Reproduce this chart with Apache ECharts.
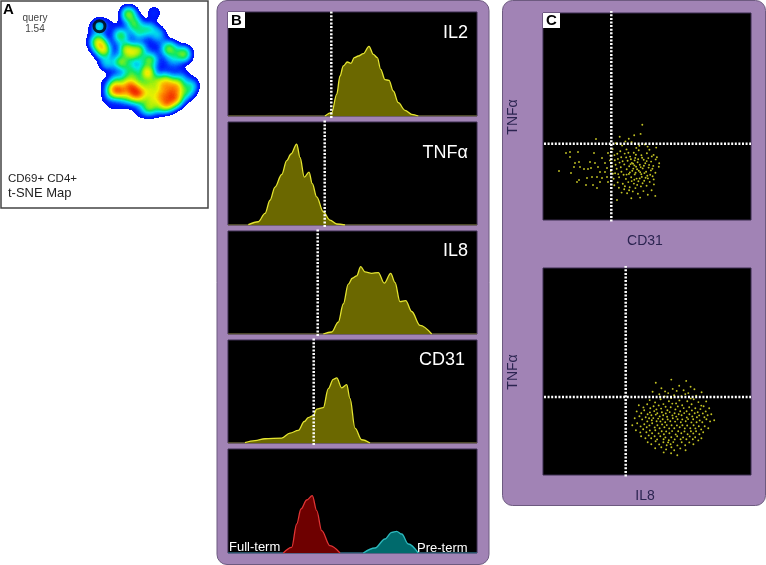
<!DOCTYPE html>
<html>
<head>
<meta charset="utf-8">
<title>CD69+ CD4+ t-SNE Map</title>
<script src="https://cdn.jsdelivr.net/npm/echarts@6/dist/echarts.min.js"></script>
<style>
html, body { margin: 0; padding: 0; background: #fff; }
#chart { width: 766px; height: 565px; }
</style>
</head>
<body>
<div id="chart"></div>
<script>
// ========== Data ==========

// Panel A: density map, [x, y, weight] with y measured downwards
const tsneBase = [
  [127,13,.16],[136,16,.14],[153,12,.24],[99,80,.1],
  [92,30,.14],[105,24,.14],[115,25,.12],[125,22,.14],[135,25,.14],[143,26,.14],
  [91,41,.14],[100,34,.12],[112,33,.12],[122,33,.12],[132,33,.14],[142,33,.14],[152,33,.14],[160,36,.14],
  [93,46,.14],[102,42,.12],[112,42,.12],[122,42,.12],[132,42,.12],[142,42,.12],[152,42,.12],[162,42,.14],[172,45,.14],
  [98,52,.14],[108,50,.12],[118,50,.12],[128,50,.12],[138,50,.12],[148,50,.12],[158,50,.12],[168,50,.12],[181,50,.14],
  [104,60,.14],[112,58,.12],[122,58,.12],[132,58,.12],[142,58,.12],[152,58,.12],[162,58,.12],[172,58,.12],[183,58,.14],
  [110,66,.12],[120,66,.12],[130,66,.12],[140,66,.12],[150,66,.12],[160,66,.12],[170,66,.12],[178,66,.14],
  [115,74,.12],[125,74,.12],[135,74,.12],[145,74,.12],[155,74,.12],[165,74,.12],[178,74,.12],[186,76,.14],
  [110,82,.14],[120,82,.12],[130,82,.12],[140,82,.12],[150,82,.12],[160,82,.12],[170,82,.12],[180,82,.12],[190,85,.14],
  [106,90,.14],[116,90,.12],[126,90,.12],[136,90,.12],[146,90,.12],[156,90,.12],[166,90,.12],[176,90,.12],[188,90,.14],
  [106,98,.14],[116,98,.12],[126,98,.12],[136,98,.12],[146,98,.12],[156,98,.12],[166,98,.12],[176,98,.12],[184,96,.14],
  [112,104,.14],[122,104,.14],[134,106,.12],[146,106,.12],[156,106,.12],[166,105,.14],[176,102,.14],
  [140,112,.14],[150,113,.14],[160,110,.14]
];
const tsneMid = [
  [127,13,.45],[133,23,.45],[98,25,.6],[106,62,.45],[120,35,.45],[137,33,.4],[144,29,.4],[150,27,.4],[157,33,.4],
  [168,48,.5],[183,53,.5],[172,58,.35],[176,52,.3],[120,61,.55],[128,67,.5],[133,73,.55],[130,56,.35],[140,60,.35],
  [115,80,.55],[125,78,.5],[132,80,.5],[140,82,.55],[148,84,.5],[155,80,.55],[165,78,.55],[178,80,.55],[190,85,.5],
  [112,92,.55],[125,95,.55],[132,97,.5],[140,100,.55],[150,105,.55],[160,105,.55],[175,100,.55],[147,107,.55],[185,92,.5],[128,50,.4],
  [150,88,.5],[158,92,.55],[145,92,.45],[160,97,.55],[153,100,.45]
];
const tsneHot = [
  [128,13,.65],[133,23,.45],[97,40,.9],[100,45,.95],[103,50,.9],[125,48,.85],[132,52,.6],[138,49,.85],
  [149,59,.85],[147,73,.9],[146,70,.8],[120,35,.45],[168,48,.5],[183,53,.5],[120,61,.5],
  [113,88,.95],[117,89,.95],[121,90,.95],[127,85,.9],[131,87,.95],[135,92,.95],[139,92,.95],[133,90,.8],[150,95,.65],
  [160,83,.7],[167,83,.75],[164,88,.7],[170,92,.9],[177,88,.9],[173,85,.8],[170,97,.9],[165,102,.9],[175,96,.9],[162,95,.75],[168,104,.7]
];
const queryCircle = [[98.5, 25.3]];

// Panel B: histograms, [x, height] on a 0-249 by 0-104 scale
const il2Hist = [[97,0],[103.7,3.3],[108.7,21.7],[112,40],[115.3,50],[119.3,54],[123,52.7],[126.3,58.3],[130.3,60],[135.3,62.3],[141,69.7],[145.3,61.7],[149.3,58.3],[152.7,46.7],[157,36.3],[161,35.7],[165.3,25],[170.3,13.3],[177,5.7],[183.7,1.7],[190.3,0]];
const tnfHist = [[20.3,.3],[30.3,3.3],[37,11.7],[42,25],[47,38.3],[53.7,51],[58.7,65],[63,71.7],[68.7,81.7],[72,68.3],[76.3,48.3],[81,53.3],[84.3,41.7],[88.7,28.3],[95.3,13.3],[102,5],[108.7,1],[117,0]];
const il8Hist = [[95.3,0],[103.7,2],[110.3,12],[115.3,30.3],[120.3,50.3],[124.3,56.3],[128.7,58.7],[132.7,68],[137,62.7],[143.7,61.3],[150.3,62],[156.3,51.3],[162.7,61.3],[167,52],[172,32.7],[177.7,33.7],[183.7,22.7],[192,8.7],[203.7,0]];
const cd31Hist = [[17,.3],[27,2.3],[37,4.3],[53.7,5],[62,10],[70.3,12.7],[76.3,21.7],[80.3,25.7],[85.3,27.7],[88.7,34.3],[95.3,35.7],[100.3,55],[105.3,64.3],[108.7,65.7],[113.7,55.7],[118.7,59],[122,45],[127,15],[133.7,3.3],[142,0]];
const fullTermHist = [[55.3,0],[63.7,5.7],[68.7,29],[73,44],[78.7,53],[84.3,57.3],[88.7,42.3],[93.7,22.3],[102,7.3],[112,0]];
const preTermHist = [[135.3,0],[147,5],[157,14],[163.7,20.7],[168.7,21.7],[173.7,19],[180.3,9],[190.3,0]];
const baseline = [[0,0],[249,0]];
const histThresholds = [103.3, 96.7, 89.7, 85.7];
const histNames = ['IL2', 'TNFα', 'IL8', 'CD31'];

// Panel C: events, [x, y] on a 0-208 by 0-207 scale
const cd31Tnf = [
  [16,49],[27,68],[23,67],[35,68],[27,63],[32,57],[36,58],[47,58],[51,67],[59,62],[28,47],[31,53],[37,53],[41,51],[45,51],[48,52],[52,57],[55,53],[57,48],[62,48],[64,43],[59,42],[54,43],[49,43],[44,42],[36,40],[34,38],[43,35],[50,35],[54,32],[57,38],[62,57],[65,67],[64,52],[65,38],[53,81],[74,20],
  [99.3,95.2],[97.6,86.1],[91.2,84.7],[85.8,81.3],[82.4,78.6],[76.7,83.2],[72.9,76.8],[79.1,74.4],[88.6,77.9],[93.3,72.1],[101.8,75.6],[106.4,70.3],[113.2,72.4],[69.7,70.9],[74.3,66.2],[83.5,70.6],[90.8,67.3],[95.7,69.8],[87.1,63.4],[103.9,66.7],
  [110.6,65.1],[78.2,62.8],[67.4,64.3],[71.8,59.7],[84.6,59.2],[92.2,62.1],[98.4,64.8],[100.7,60.3],[105.3,61.9],[94.6,57.8],[88.9,57.1],[81.3,55.6],[76.6,57.4],[69.2,53.8],[73.7,51.2],[86.2,53.7],[91.4,54.6],[96.8,55.3],[102.3,56.7],[108.1,58.4],
  [112.7,60.6],[115.8,53.2],[110.3,54.1],[105.6,52.4],[99.7,51.6],[94.1,50.7],[89.3,49.2],[83.7,50.8],[78.4,48.3],[72.1,46.7],[67.8,48.9],[80.6,45.2],[85.9,46.1],[91.7,45.6],[97.2,47.8],[103.1,48.2],[107.9,49.6],[112.4,47.3],[109.6,43.7],[104.3,44.2],
  [98.8,43.1],[93.6,41.4],[88.2,42.8],[82.9,41.1],[76.1,42.7],[70.6,41.3],[74.7,37.6],[79.8,36.2],[85.3,37.9],[90.9,36.4],[95.4,38.7],[101.2,39.3],[106.7,38.1],[110.9,35.6],[103.6,34.2],[97.9,33.6],[92.4,31.9],[86.7,32.8],[81.2,30.7],[75.9,32.2],
  [71.3,34.8],[78.6,27.4],[84.1,26.8],[89.8,28.6],[94.9,26.3],[100.4,28.9],[104.8,25.2],[108.6,29.7],[112.3,24.1],[97.1,22.4],[88.3,21.8],[91.6,59.6],[95.2,60.7],[97.7,52.9],[100.9,54.2],[93.1,53.3],[87.6,55.9],[90.3,51.4],[95.8,49.3],[101.4,46.9],
  [106.1,55.1],[103.7,58.9],[99.1,62.3],[92.9,65.2],[87.9,60.7],[83.2,62.6],[79.6,58.7],[74.9,61.1],[68.3,57.2],[71.4,64.9],[77.3,68.7],[81.7,66.4],[85.4,67.2],[96.3,74.3],[104.6,73.4],[108.8,63.6],[113.9,62.7],[116.2,56.8],[109.4,51.2],[104.9,41.6],
  [99.6,36.7],[94.2,35.1],[88.7,38.9],[83.6,45.4],[77.8,52.7],[72.6,55.3],[66.9,59.6],[69.8,46.3],[75.2,45.9],[81.9,33.8],[86.1,29.7],[91.3,40.2],[96.7,41.6],[102.6,42.3],[107.2,45.3],[110.7,40.6],[86.9,47.6],[92.6,47.2],[98.3,45.7],[90.1,56.3]
];
const il8Tnf = [
  [128.3,95.4],[143.2,94.1],[147.6,88.3],[112.8,92.2],[118.4,86.7],[122.1,83.6],[129.7,86.1],[136.2,89.3],[140.6,84.7],[145.3,81.9],[151.4,85.8],[109.6,83.2],[116.3,80.7],[121.8,78.6],[125.2,81.9],[131.1,79.8],[133.7,84.1],[138.4,78.7],[142.3,80.9],[147.7,76.6],
  [153.2,79.4],[158.6,82.7],[106.7,74.9],[112.1,72.6],[117.6,75.8],[120.4,70.9],[125.9,73.7],[128.2,76.9],[133.1,71.6],[136.4,74.6],[139.2,69.7],[144.3,73.8],[148.6,70.8],[150.7,75.8],[155.4,72.9],[158.3,69.4],[163.2,73.6],[95.8,69.7],[100.4,67.6],[104.2,70.7],
  [107.3,66.8],[110.6,68.7],[113.4,65.6],[115.7,69.6],[118.1,66.4],[122.6,68.3],[124.4,64.7],[127.7,67.8],[129.3,71.4],[132.4,65.6],[134.8,68.6],[137.2,63.8],[140.7,66.9],[143.6,63.7],[146.2,67.7],[148.9,64.6],[152.3,66.8],[154.7,62.7],[157.4,65.9],[160.6,68.8],
  [162.7,63.6],[166.2,66.7],[93.7,63.6],[98.3,61.7],[101.2,64.8],[104.6,60.7],[106.9,62.6],[108.4,59.7],[111.2,63.9],[112.8,60.4],[114.3,61.8],[116.7,58.6],[118.9,62.7],[120.2,59.8],[122.8,61.6],[124.1,58.3],[126.7,62.9],[129.4,59.6],[131.6,61.7],[133.3,58.4],
  [135.7,60.8],[138.6,59.7],[141.2,61.9],[143.8,57.6],[146.4,60.7],[149.3,58.6],[151.7,61.8],[153.9,57.7],[156.2,59.6],[159.8,61.6],[161.4,57.8],[164.6,59.7],[168.3,60.8],[91.7,56.8],[96.4,58.7],[99.2,55.6],[102.7,57.8],[104.3,53.6],[106.1,56.7],[108.8,54.7],
  [110.3,56.9],[113.6,53.8],[115.2,56.4],[117.4,53.6],[119.7,55.8],[122.2,52.7],[124.7,55.6],[127.3,53.8],[129.8,56.7],[132.1,53.4],[134.6,55.7],[137.8,52.8],[139.3,55.6],[142.7,53.7],[145.1,55.9],[148.4,52.6],[150.2,55.7],[153.6,52.8],[156.7,54.6],[159.3,52.7],
  [163.4,55.8],[167.1,53.6],[171.2,54.7],[89.3,49.8],[94.2,51.7],[97.6,48.6],[101.3,50.7],[103.7,47.8],[106.4,49.6],[109.2,51.8],[111.7,47.6],[114.4,49.7],[116.6,46.8],[119.1,50.6],[121.4,47.7],[123.8,49.9],[126.2,46.6],[128.6,49.7],[131.3,46.8],[133.9,49.6],[136.7,47.7],
  [139.4,49.8],[141.8,46.6],[144.2,49.5],[147.3,46.7],[150.6,49.8],[152.4,46.6],[155.8,48.7],[158.2,45.6],[161.7,48.8],[165.3,46.7],[92.9,44.7],[97.3,42.6],[100.2,45.8],[103.4,42.7],[106.8,44.6],[109.1,41.8],[112.3,44.7],[115.6,41.6],[118.7,43.8],[120.9,40.7],
  [123.2,43.6],[126.4,41.7],[129.1,43.9],[132.7,40.6],[135.2,43.7],[138.3,41.8],[141.4,43.6],[144.6,40.7],[147.9,43.8],[150.3,41.6],[153.1,43.7],[156.4,40.8],[160.2,42.7],[98.1,38.8],[102.4,36.7],[105.7,39.6],[108.2,36.8],[111.6,38.7],[114.1,35.6],[117.3,38.8],
  [120.6,35.7],[122.4,37.6],[125.8,34.8],[128.3,37.7],[131.7,35.6],[134.2,38.8],[137.6,35.7],[140.1,37.6],[143.4,35.8],[146.7,38.6],[149.8,35.7],[152.2,37.8],[155.3,34.6],[158.4,36.7],[104.7,32.8],[108.3,30.7],[112.6,33.8],[116.2,30.6],[120.4,32.7],[123.7,29.8],
  [125.1,32.6],[127.6,30.7],[130.3,32.9],[134.4,29.6],[138.7,32.8],[142.2,29.7],[146.3,32.6],[150.4,30.8],[112.2,26.8],[118.3,27.7],[123.1,25.6],[128.4,27.8],[131.2,24.7],[137.3,26.6],[142.6,24.8],[120.7,22.6],[128.1,21.8],[134.3,19.7]
];
const scatterThresholds = [[68.3, 76.3], [82.7, 78]];

const LEVEL_COLOURS = ['#0000f0', '#0020ff', '#0090ff', '#00e8e8', '#10e860', '#90f010', '#f0f000', '#ff9000', '#f02000', '#e00000'];

// ========== Layout of the panels ==========
const histGrids = [
  { left: 228, top: 12, width: 249, height: 104 },
  { left: 228, top: 122, width: 249, height: 103 },
  { left: 228, top: 231, width: 249, height: 103 },
  { left: 228, top: 340, width: 249, height: 103 },
  { left: 228, top: 449, width: 249, height: 104 }
];
const scatterGrids = [
  { left: 543, top: 13, width: 208, height: 207 },
  { left: 543, top: 268, width: 208, height: 207 }
];

const grids = [], xAxes = [], yAxes = [], series = [];

function addGrid(box, xMax, yMax) {
  grids.push(Object.assign({ show: true, backgroundColor: '#000', borderColor: '#3b2c4e', borderWidth: 1 }, box));
  xAxes.push({ type: 'value', gridIndex: grids.length - 1, min: 0, max: xMax, show: false });
  yAxes.push({ type: 'value', gridIndex: grids.length - 1, min: 0, max: yMax, show: false });
  return grids.length - 1;
}

function histSeries(i, data, line, fill) {
  return {
    type: 'line', xAxisIndex: i, yAxisIndex: i, data: data, showSymbol: false, silent: true,
    smooth: 0.35, smoothMonotone: 'x',
    lineStyle: { color: line, width: 1.3 },
    areaStyle: { color: fill, opacity: 1 }
  };
}

function baselineSeries(i, colour) {
  return {
    type: 'line', xAxisIndex: i, yAxisIndex: i, data: baseline, showSymbol: false, silent: true, z: 1,
    lineStyle: { color: colour, width: 1 }
  };
}

// Dotted gates run a little past the plot edge, so no clipping
function gateSeries(i, data) {
  return {
    type: 'line', xAxisIndex: i, yAxisIndex: i, data: data, showSymbol: false, silent: true, clip: false, z: 5,
    lineStyle: { color: '#fff', width: 2.5, type: [2, 1.6] }
  };
}

[il2Hist, tnfHist, il8Hist, cd31Hist].forEach((hist, k) => {
  const i = addGrid(histGrids[k], 249, 104);
  series.push(baselineSeries(i, '#7d7a30'));
  series.push(histSeries(i, hist, '#e4e430', '#6b6800'));
  series.push(gateSeries(i, [[histThresholds[k], -2], [histThresholds[k], 106]]));
});

const termGrid = addGrid(histGrids[4], 249, 104);
series.push(baselineSeries(termGrid, '#2a88a0'));
series.push(histSeries(termGrid, preTermHist, '#2cb8bc', '#006a6c'));
series.push(histSeries(termGrid, fullTermHist, '#e03434', '#6e0000'));

[cd31Tnf, il8Tnf].forEach((points, k) => {
  const i = addGrid(scatterGrids[k], 208, 207);
  series.push({
    type: 'scatter', xAxisIndex: i, yAxisIndex: i, data: points, silent: true, symbolSize: 1.9,
    itemStyle: { color: '#d8d828', opacity: 0.9 }
  });
  const g = scatterThresholds[k];
  series.push(gateSeries(i, [[g[0], -1.5], [g[0], 209]]));
  series.push(gateSeries(i, [[1, g[1]], [208, g[1]]]));
});

// Panel A goes on a geo box the size of the frame, heatmaps only blur there
echarts.registerMap('frame', {
  type: 'FeatureCollection',
  features: [{
    type: 'Feature', properties: { name: 'frame' },
    geometry: { type: 'Polygon', coordinates: [[[0, 0], [207, 0], [207, 207], [0, 207], [0, 0]]] }
  }]
});
const flipY = p => [p[0], 207 - p[1], p[2]];
series.push({
  type: 'heatmap', coordinateSystem: 'geo', silent: true, z: 3,
  pointSize: 5, blurSize: 8, minOpacity: 1, maxOpacity: 1,
  data: tsneBase.concat(tsneMid, tsneHot).map(flipY)
});
series.push({
  type: 'scatter', coordinateSystem: 'geo', silent: true, z: 4, symbolSize: 11,
  data: queryCircle.map(flipY),
  itemStyle: { color: 'transparent', borderColor: '#000', borderWidth: 3 }
});

// ========== Frames and labels ==========
function label(x, y, text, size, extra) {
  return {
    type: 'text', x: x, y: y, z: 20, silent: true,
    style: Object.assign({
      text: text, fontSize: size, fontFamily: '"Liberation Sans", Arial, sans-serif',
      fill: '#fff', textAlign: 'left', textVerticalAlign: 'middle'
    }, extra)
  };
}
function tag(x, y, w, h, letter) {
  return [
    { type: 'rect', z: 19, silent: true, shape: { x: x, y: y, width: w, height: h }, style: { fill: '#fff' } },
    label(x + w / 2, y + h / 2 + 0.5, letter, 15, { fill: '#000', fontWeight: 'bold', textAlign: 'center' })
  ];
}
const histLabelSpots = [[468, 33], [468, 153], [468, 251], [465, 360]];
const dark = { fill: '#2b2450' };

const graphics = [
  { type: 'rect', z: -10, silent: true, shape: { x: 1, y: 1, width: 207, height: 207 }, style: { fill: '#fff', stroke: '#444', lineWidth: 1.5 } },
  { type: 'rect', z: -10, silent: true, shape: { x: 217, y: 0.5, width: 272, height: 564, r: 10 }, style: { fill: '#a183b5', stroke: '#6d5a80', lineWidth: 1 } },
  { type: 'rect', z: -10, silent: true, shape: { x: 502.5, y: 0.5, width: 263, height: 505, r: 10 }, style: { fill: '#a183b5', stroke: '#6d5a80', lineWidth: 1 } },
  label(3, 10, 'A', 15, { fill: '#000', fontWeight: 'bold' }),
  label(35, 18, 'query', 10, { fill: '#444', textAlign: 'center' }),
  label(35, 29, '1.54', 10, { fill: '#444', textAlign: 'center' }),
  label(8, 179, 'CD69+ CD4+', 11.5, { fill: '#222' }),
  label(8, 193, 't-SNE Map', 13, { fill: '#222' }),
  ...tag(228, 12, 17, 16, 'B'),
  ...tag(543, 13, 17, 15, 'C'),
  ...histNames.map((name, k) => label(histLabelSpots[k][0], histLabelSpots[k][1], name, 18, { textAlign: 'right' })),
  label(229, 547, 'Full-term', 13, {}),
  label(417, 548, 'Pre-term', 13, {}),
  label(645, 241, 'CD31', 14, Object.assign({ textAlign: 'center' }, dark)),
  label(645, 496, 'IL8', 14, Object.assign({ textAlign: 'center' }, dark)),
  Object.assign(label(0, 0, 'TNFα', 14, Object.assign({ textAlign: 'center' }, dark)), { x: 513, y: 117, rotation: Math.PI / 2 }),
  Object.assign(label(0, 0, 'TNFα', 14, Object.assign({ textAlign: 'center' }, dark)), { x: 513, y: 372, rotation: Math.PI / 2 })
];

// ========== Chart ==========
const myChart = echarts.init(document.getElementById('chart'), null, { renderer: 'canvas' });
myChart.setOption({
  animation: false,
  backgroundColor: '#fff',
  grid: grids,
  xAxis: xAxes,
  yAxis: yAxes,
  geo: {
    map: 'frame', left: 1, top: 1, width: 207, height: 207, aspectScale: 1, roam: false, silent: true, z: 2,
    label: { show: false },
    itemStyle: { areaColor: 'transparent', borderWidth: 0 },
    emphasis: { disabled: true }
  },
  visualMap: {
    show: false, type: 'continuous', seriesIndex: series.findIndex(s => s.type === 'heatmap'),
    min: 0, max: 1, range: [0.06, 1],
    inRange: { color: LEVEL_COLOURS }
  },
  graphic: graphics,
  series: series
});
</script>
</body>
</html>
